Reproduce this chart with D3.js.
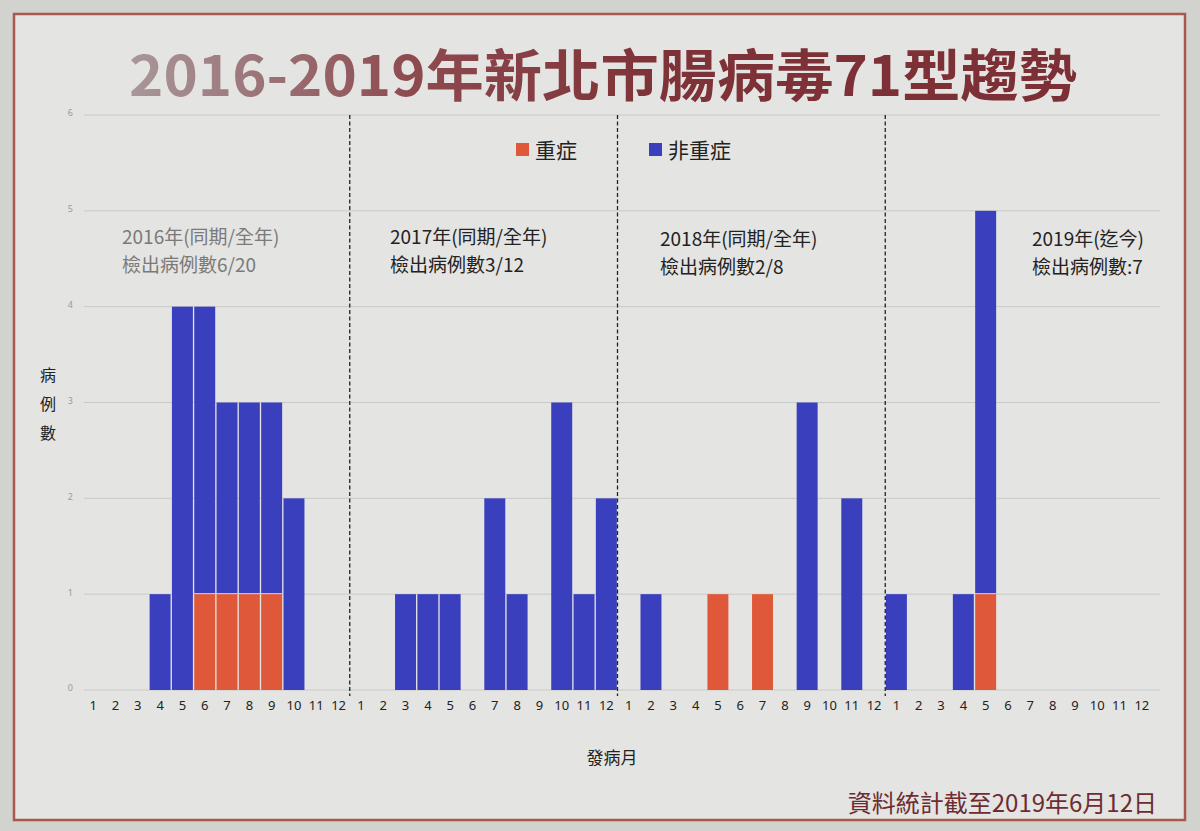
<!DOCTYPE html>
<html><head><meta charset="utf-8">
<script src="https://cdn.jsdelivr.net/npm/d3@7/dist/d3.min.js"></script>
<style>
html,body{margin:0;padding:0;background:#cfcfcc;}
svg{display:block;font-family:"Noto Sans CJK TC","Noto Sans CJK SC","Noto Sans",sans-serif;}
</style></head>
<body>
<svg id="chart" width="1200" height="831"></svg>
<script>
const title = "2016-2019年新北市腸病毒71型趨勢";
const years = ["2016","2017","2018","2019"];
const monthLabels = ["1","2","3","4","5","6","7","8","9","10","11","12"];
const yTicks = [0,1,2,3,4,5,6];
const seriesNames = ["重症","非重症"];
const severe2016    = [0,0,0,0,0,1,1,1,1,0,0,0];
const nonSevere2016 = [0,0,0,1,4,3,2,2,2,2,0,0];
const severe2017    = [0,0,0,0,0,0,0,0,0,0,0,0];
const nonSevere2017 = [0,0,1,1,1,0,2,1,0,3,1,2];
const severe2018    = [0,0,0,0,1,0,1,0,0,0,0,0];
const nonSevere2018 = [0,1,0,0,0,0,0,0,3,0,2,0];
const severe2019    = [0,0,0,0,1,0,0,0,0,0,0,0];
const nonSevere2019 = [1,0,0,1,4,0,0,0,0,0,0,0];
const yearNotes = [
  ["2016年(同期/全年)","檢出病例數6/20"],
  ["2017年(同期/全年)","檢出病例數3/12"],
  ["2018年(同期/全年)","檢出病例數2/8"],
  ["2019年(迄今)","檢出病例數:7"]
];
const xAxisTitle = "發病月";
const yAxisTitle = "病例數";
const footnote = "資料統計截至2019年6月12日";

const severeAll = [severe2016, severe2017, severe2018, severe2019];
const nonAll = [nonSevere2016, nonSevere2017, nonSevere2018, nonSevere2019];
const rows = [];
years.forEach((y, yi) => monthLabels.forEach((m, mi) => {
  rows.push({key: y + "-" + m, year: y, month: m, yi, severe: severeAll[yi][mi], non: nonAll[yi][mi]});
}));

const colors = {severe: "#e0583a", non: "#3a40bd"};
const svg = d3.select("#chart");

// background / slide
svg.append("rect").attr("x",0).attr("y",0).attr("width",1200).attr("height",831).attr("fill","#d2d2cf");
svg.append("rect").attr("x",14).attr("y",14).attr("width",1171).attr("height",806)
  .attr("fill","#e4e4e2").attr("stroke","#a9584c").attr("stroke-width",2.5);

// title
const grad = svg.append("defs").append("linearGradient").attr("id","tg").attr("x1","0%").attr("x2","100%");
grad.append("stop").attr("offset","0%").attr("stop-color","#a8979a");
grad.append("stop").attr("offset","30%").attr("stop-color","#8d4a4f");
grad.append("stop").attr("offset","55%").attr("stop-color","#7e3338");
grad.append("stop").attr("offset","100%").attr("stop-color","#7c2f35");
svg.append("text").attr("x",129).attr("y",96).attr("font-size",56).attr("font-weight","bold")
  .attr("textLength",948).attr("lengthAdjust","spacingAndGlyphs")
  .attr("fill","url(#tg)").text(title);

const x = d3.scaleBand().domain(rows.map(d => d.key)).range([82,1153]).paddingInner(0.06).paddingOuter(0.03);
const y = d3.scaleLinear().domain([0,6]).range([690,115]);

// gridlines
const g = svg.append("g");
g.selectAll("line.grid").data(yTicks).join("line").attr("class","grid")
  .attr("x1",84).attr("x2",1160).attr("y1",d=>y(d)).attr("y2",d=>y(d))
  .attr("stroke","#c9c9c7").attr("stroke-width",1);

// y tick labels
const yAxis = d3.axisLeft(y).tickValues(yTicks).tickFormat(d3.format("d")).tickSize(0).tickPadding(0);
const ya = svg.append("g").attr("transform","translate(73,-2)").call(yAxis);
ya.select(".domain").remove();
ya.selectAll("text").attr("font-size",9).attr("fill","#9a9a9a").attr("font-family","Noto Sans");

// x axis labels
const xAxis = d3.axisBottom(x).tickSize(0).tickPadding(0).tickFormat(k => k.split("-")[1]);
const xa = svg.append("g").attr("transform","translate(0,701)").call(xAxis);
xa.select(".domain").remove();
xa.selectAll("text").attr("font-size",13).attr("fill","#222").attr("font-family","Noto Sans");

// bars
const bars = svg.append("g");
bars.selectAll("rect.sev").data(rows.filter(d=>d.severe>0)).join("rect").attr("class","sev")
  .attr("x",d=>x(d.key)).attr("width",x.bandwidth())
  .attr("y",d=>y(d.severe)).attr("height",d=>y(0)-y(d.severe))
  .attr("fill",colors.severe);
bars.selectAll("rect.non").data(rows.filter(d=>d.non>0)).join("rect").attr("class","non")
  .attr("x",d=>x(d.key)).attr("width",x.bandwidth())
  .attr("y",d=>y(d.severe+d.non)).attr("height",d=>y(d.severe)-y(d.severe+d.non)-(d.severe>0?1:0))
  .attr("fill",colors.non);

// year dividers
const step = x.step();
[1,2,3].forEach(i => {
  const k = years[i] + "-1";
  const xx = x(k) - step*x.paddingInner()/2;
  svg.append("line").attr("x1",xx).attr("x2",xx).attr("y1",115).attr("y2",696)
    .attr("stroke","#222").attr("stroke-width",1.3).attr("stroke-dasharray","4,2.5");
});

// year notes
const notePos = [[122,244,"#7a7a7a"],[390,244,"#222"],[660,246,"#222"],[1032,246,"#222"]];
yearNotes.forEach((lines, i) => {
  lines.forEach((l, j) => {
    svg.append("text").attr("x",notePos[i][0]).attr("y",notePos[i][1] + j*28)
      .attr("font-size",19).attr("fill",notePos[i][2]).text(l);
  });
});

// legend
const leg = [[516,colors.severe,seriesNames[0]],[649,colors.non,seriesNames[1]]];
leg.forEach(([lx,c,name]) => {
  svg.append("rect").attr("x",lx).attr("y",143).attr("width",13).attr("height",13).attr("fill",c);
  svg.append("text").attr("x",lx+19).attr("y",158).attr("font-size",21).attr("fill","#222").text(name);
});

// y axis title (vertical chars)
yAxisTitle.split("").forEach((ch,i) => {
  svg.append("text").attr("x",48).attr("y",381+i*29).attr("text-anchor","middle")
    .attr("font-size",16).attr("fill","#222").text(ch);
});

// x axis title
svg.append("text").attr("x",612).attr("y",764).attr("text-anchor","middle")
  .attr("font-size",17).attr("fill","#222").text(xAxisTitle);

// footnote
svg.append("text").attr("x",1157).attr("y",812).attr("text-anchor","end")
  .attr("font-size",24).attr("fill","#6e2c31").text(footnote);
</script>
</body></html>
